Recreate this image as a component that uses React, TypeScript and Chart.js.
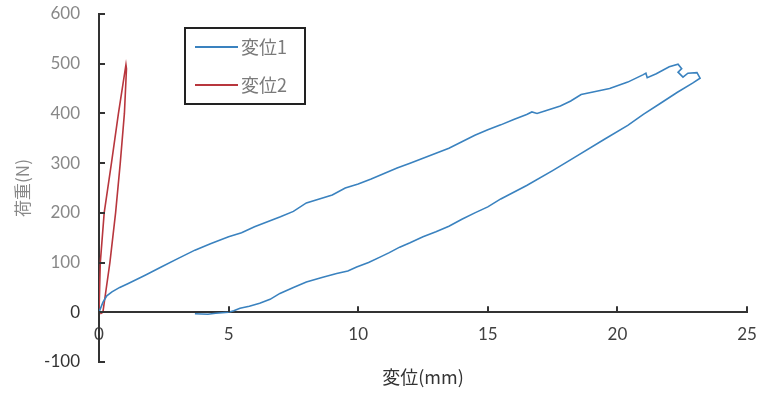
import React, { useEffect, useRef } from "react";
import { Chart, registerables } from "chart.js";

Chart.register(...registerables);

const seriesLabels = ["変位1", "変位2"];
const xTitle = "変位(mm)";
const yTitle = "荷重(N)";

// 変位1 (displacement mm, load N) — loading then unloading
const disp1 = [
  0, 0.15, 0.3, 0.5, 0.8, 1.13, 1.8, 2.4, 3.0, 3.7, 4.3, 5.0, 5.5, 6.0, 7.0, 7.5, 8.0, 8.5, 9.0, 9.5,
  10.0, 10.5, 11.0, 11.5, 12.0, 12.5, 13.0, 13.5, 14.0, 14.5, 15.0, 15.5, 16.0, 16.5, 16.7, 16.9, 17.2,
  17.8, 18.2, 18.6, 19.06, 19.7, 20.4, 21.0, 21.1, 21.15, 21.5, 22.0, 22.34, 22.48, 22.34, 22.53, 22.72,
  23.07, 23.19, 22.9, 22.3, 21.65, 21.0, 20.4, 19.5, 18.3, 17.5, 16.5, 15.5, 15.0, 14.5, 14.0, 13.5, 13.0,
  12.5, 12.0, 11.6, 11.2, 10.84, 10.4, 9.94, 9.6, 9.17, 8.6, 8.0, 7.5, 6.98, 6.6, 6.2, 5.8, 5.44, 5.2, 5.0,
  4.5, 4.2, 3.7,
];
const load1 = [
  0, 20, 33, 41, 50, 58, 75, 91, 107, 125, 138, 152, 160, 172, 192, 203, 220, 228, 236, 250,
  258, 268, 279, 290, 300, 310, 320, 330, 343, 356, 367, 377, 388, 398, 403, 400, 405,
  415, 425, 438, 443, 450, 463, 478, 481, 472, 480, 494, 499, 490, 483, 473, 481,
  482, 471, 461, 442, 420, 398, 376, 348, 310, 285, 255, 228, 212, 200, 187, 173, 162,
  152, 140, 131, 120, 111, 100, 91, 83, 78, 70, 61, 50, 38, 26, 18, 12, 8, 3, 0,
  -2, -4, -3,
];

// 変位2
const disp2 = [0, 0.05, 0.2, 0.48, 0.75, 1.04, 1.06, 0.98, 0.82, 0.64, 0.42, 0.15, 0.05];
const load2 = [0, 100, 200, 300, 400, 498, 490, 400, 300, 200, 100, 0, -3];

const xMin = 0;
const xMax = 25;
const xStep = 5;
const yMin = -100;
const yMax = 600;
const yStep = 100;

const colors = ["#3a82bf", "#b8363d"];

const tickFont = "Lato, 'Liberation Sans', 'Noto Sans CJK JP', sans-serif";
const cjkFont = "'Noto Sans CJK JP', 'Liberation Sans', sans-serif";

const innerTicksPlugin = {
  id: "innerTicks",
  afterDraw(chart: any) {
    const { ctx, scales } = chart;
    const xs = scales.x;
    const ys = scales.y;
    const x0 = xs.getPixelForValue(0);
    const y0 = ys.getPixelForValue(0);
    ctx.save();
    ctx.strokeStyle = "#333";
    ctx.lineWidth = 2;
    ctx.beginPath();
    for (let v = yMin; v <= yMax; v += yStep) {
      const py = Math.round(ys.getPixelForValue(v));
      ctx.moveTo(x0, py);
      ctx.lineTo(x0 + 6, py);
    }
    for (let v = xMin + xStep; v <= xMax; v += xStep) {
      const px = Math.round(xs.getPixelForValue(v));
      ctx.moveTo(px, y0);
      ctx.lineTo(px, y0 - 6);
    }
    ctx.stroke();
    ctx.restore();
  },
};

const boxLegendPlugin = {
  id: "boxLegend",
  afterDraw(chart: any) {
    const { ctx } = chart;
    const bx = 185;
    const by = 28;
    const bw = 120;
    const bh = 76;
    ctx.save();
    ctx.fillStyle = "#ffffff";
    ctx.fillRect(bx, by, bw, bh);
    ctx.strokeStyle = "#222";
    ctx.lineWidth = 2;
    ctx.strokeRect(bx, by, bw, bh);
    chart.data.datasets.forEach((ds: any, i: number) => {
      const ly = by + 19 + i * 38;
      ctx.strokeStyle = ds.borderColor;
      ctx.lineWidth = 2;
      ctx.beginPath();
      ctx.moveTo(bx + 10, ly);
      ctx.lineTo(bx + 53, ly);
      ctx.stroke();
      ctx.fillStyle = "#7a7a7a";
      ctx.font = "18px " + cjkFont;
      ctx.textBaseline = "middle";
      ctx.textAlign = "left";
      ctx.fillText(ds.label, bx + 56, ly);
    });
    ctx.restore();
  },
};

export default function App() {
  const ref = useRef<HTMLCanvasElement | null>(null);

  useEffect(() => {
    document.body.style.margin = "0";
    document.body.style.overflow = "hidden";
    const canvas = ref.current;
    if (!canvas) return;
    const toPts = (xs: number[], ys: number[]) => xs.map((x, i) => ({ x, y: ys[i] }));
    const chart = new Chart(canvas, {
      type: "scatter",
      data: {
        datasets: [
          {
            label: seriesLabels[0],
            data: toPts(disp1, load1),
            showLine: true,
            borderColor: colors[0],
            backgroundColor: colors[0],
            borderWidth: 1.6,
            pointRadius: 0,
            tension: 0,
          },
          {
            label: seriesLabels[1],
            data: toPts(disp2, load2),
            showLine: true,
            borderColor: colors[1],
            backgroundColor: colors[1],
            borderWidth: 1.6,
            pointRadius: 0,
            tension: 0,
          },
        ],
      },
      options: {
        animation: false,
        responsive: false,
        layout: { padding: { left: 0, right: 26, top: 14, bottom: 32 } },
        plugins: {
          legend: { display: false },
          tooltip: { enabled: false },
        },
        scales: {
          x: {
            type: "linear",
            position: { y: 0 },
            min: xMin,
            max: xMax,
            afterFit: (s: any) => {
              s.paddingLeft = 0;
              s.paddingRight = 0;
            },
            ticks: {
              stepSize: xStep,
              padding: 12,
              color: "#404040",
              font: { size: 17, family: tickFont },
            },
            grid: { drawOnChartArea: false, drawTicks: false },
            border: { display: true, color: "#333", width: 2 },
            title: {
              display: true,
              text: xTitle,
              color: "#333",
              font: { size: 18, family: cjkFont },
              padding: { top: 10, bottom: 0 },
            },
          },
          y: {
            type: "linear",
            position: "left",
            min: yMin,
            max: yMax,
            afterFit: (s: any) => {
              s.width = 99;
              s.paddingTop = 0;
              s.paddingBottom = 0;
            },
            ticks: {
              stepSize: yStep,
              padding: 19,
              color: (c: any) => (c.tick && c.tick.value <= 0 ? "#333" : "#888"),
              font: { size: 17, family: tickFont },
            },
            grid: { drawOnChartArea: false, drawTicks: false },
            border: { display: true, color: "#333", width: 2 },
            title: {
              display: true,
              text: yTitle,
              color: "#888",
              font: { size: 17, family: cjkFont },
              padding: { top: 12, bottom: 0 },
            },
          },
        },
      },
      plugins: [innerTicksPlugin, boxLegendPlugin],
    });
    return () => chart.destroy();
  }, []);

  return (
    <div style={{ width: 773, height: 394 }}>
      <canvas ref={ref} width={773} height={394} style={{ display: "block" }} />
    </div>
  );
}
